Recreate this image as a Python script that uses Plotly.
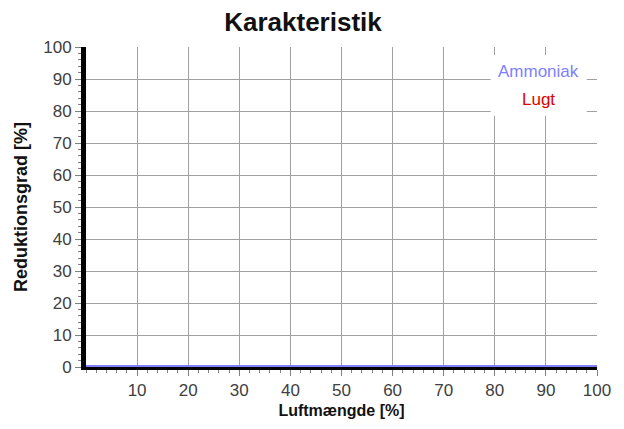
import plotly.graph_objects as go

luftmaengde = [0, 10, 20, 30, 40, 50, 60, 70, 80, 90, 100]
ammoniak = [0, 0, 0, 0, 0, 0, 0, 0, 0, 0, 0]
lugt = [0, 0, 0, 0, 0, 0, 0, 0, 0, 0, 0]
x_ticks = [10, 20, 30, 40, 50, 60, 70, 80, 90, 100]
y_ticks = [0, 10, 20, 30, 40, 50, 60, 70, 80, 90, 100]

FONT = "Liberation Sans, Arial, sans-serif"

fig = go.Figure()
fig.add_trace(go.Scatter(x=luftmaengde, y=lugt, mode="lines", name="Lugt",
                         line=dict(color="#e00000", width=4), showlegend=False))
fig.add_trace(go.Scatter(x=luftmaengde, y=ammoniak, mode="lines", name="Ammoniak",
                         line=dict(color="#8080ff", width=4), showlegend=False))

fig.update_layout(
    width=624, height=429,
    margin=dict(l=78, r=35, t=39, b=70),
    paper_bgcolor="white", plot_bgcolor="white",
    title=dict(text="<b>Karakteristik</b>", x=(303 - 8) / 624, xanchor="center",
               y=1 - 14 / 429, yanchor="middle",
               font=dict(family=FONT, size=26, color="#111111")),
    showlegend=False,
    font=dict(family=FONT),
)

fig.update_xaxes(
    range=[0, 100], tickvals=x_ticks, ticktext=[str(v) for v in x_ticks],
    showgrid=True, gridcolor="#a0a0a0", gridwidth=1,
    ticks="outside", ticklen=6, tickcolor="#808080", tickwidth=1,
    minor=dict(dtick=2, ticks="outside", ticklen=3, tickcolor="#808080", showgrid=False),
    showline=True, linecolor="black", linewidth=3,
    tickfont=dict(family=FONT, size=17, color="#404040"),
    title=dict(text="<b>Luftmængde [%]</b>", font=dict(family=FONT, size=16, color="#111111"), standoff=6),
    zeroline=False, automargin=False,
)
fig.update_yaxes(
    range=[0, 100], tickvals=y_ticks, ticktext=[str(v) for v in y_ticks],
    showgrid=True, gridcolor="#a0a0a0", gridwidth=1,
    ticks="outside", ticklen=6, tickcolor="#808080", tickwidth=1,
    minor=dict(dtick=2, ticks="outside", ticklen=3, tickcolor="#808080", showgrid=False),
    showline=True, linecolor="black", linewidth=5,
    tickfont=dict(family=FONT, size=17, color="#404040"),
    title=dict(text="<b>Reduktionsgrad [%]</b>", font=dict(family=FONT, size=18, color="#111111"), standoff=12),
    zeroline=False, automargin=False,
)

# legend box (text only)
fig.add_shape(type="rect", xref="x", yref="y", x0=79.2, x1=98, y0=78.5, y1=97.5,
              fillcolor="white", line=dict(width=0), layer="above")
fig.add_annotation(text="Ammoniak", xref="x", yref="y", x=88.5, y=92.2,
                   showarrow=False, font=dict(family=FONT, size=17, color="#8080ff"))
fig.add_annotation(text="Lugt", xref="x", yref="y", x=88.5, y=83.7,
                   showarrow=False, font=dict(family=FONT, size=17, color="#e00000"))

fig.write_html("out.html")
